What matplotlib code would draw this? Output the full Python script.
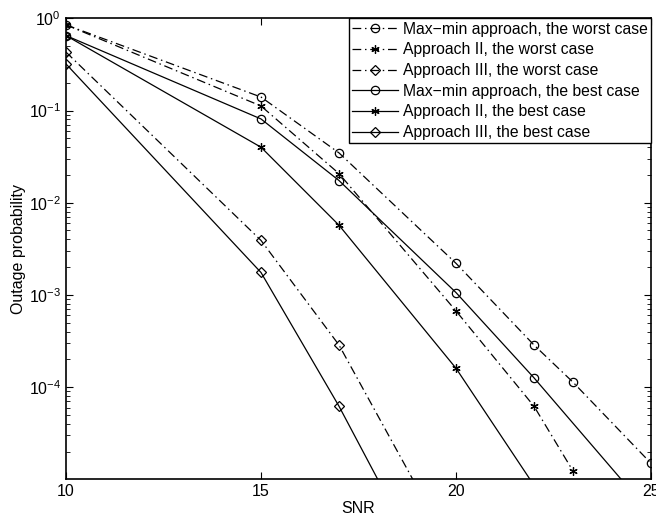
import matplotlib
matplotlib.use('Agg')
import matplotlib.pyplot as plt
import numpy as np
from matplotlib.ticker import LogLocator, NullFormatter

plt.rcParams['font.family'] = ['Liberation Sans', 'DejaVu Sans']
plt.rcParams['mathtext.fontset'] = 'custom'
plt.rcParams['mathtext.rm'] = 'Liberation Sans'

# SNR points and outage probabilities
snr_maxmin_worst = [10, 15, 17, 20, 22, 23, 25]
out_maxmin_worst = [0.85, 0.14, 0.0347, 2.2e-3, 2.86e-4, 1.13e-4, 1.49e-5]

snr_ii_worst = [10, 15, 17, 20, 22, 23]
out_ii_worst = [0.85, 0.112, 0.0207, 6.7e-4, 6.2e-5, 1.23e-5]

snr_iii_worst = [10, 15, 17, 20]
out_iii_worst = [0.43, 3.9e-3, 2.86e-4, 1.4e-6]

snr_maxmin_best = [10, 15, 17, 20, 22, 25]
out_maxmin_best = [0.65, 0.081, 0.0174, 1.06e-3, 1.26e-4, 4.2e-6]

snr_ii_best = [10, 15, 17, 20, 22]
out_ii_best = [0.65, 0.04, 5.7e-3, 1.6e-4, 8.6e-6]

snr_iii_best = [10, 15, 17, 20]
out_iii_best = [0.32, 1.75e-3, 6.2e-5, 2.5e-7]

labels = ['Max\u2212min approach, the worst case',
          'Approach II, the worst case',
          'Approach III, the worst case',
          'Max\u2212min approach, the best case',
          'Approach II, the best case',
          'Approach III, the best case']

xticks = [10, 15, 20, 25]
yticks = [1e-4, 1e-3, 1e-2, 1e-1, 1]

fig = plt.figure(figsize=(6.56, 5.19), dpi=100)
ax = fig.add_axes([0.1006, 0.0765, 0.8918, 0.8882])

dashdot = (0, (7, 3, 1.2, 3))
kw = dict(color='black', lw=0.9, markersize=6, markerfacecolor='none',
          markeredgecolor='black', markeredgewidth=0.9)
dkw = dict(kw, markersize=5)

ax.plot(snr_maxmin_worst, out_maxmin_worst, linestyle=dashdot, marker='o', label=labels[0], **kw)
ax.plot(snr_ii_worst, out_ii_worst, linestyle=dashdot, marker=(6, 2, 0), label=labels[1], **kw)
ax.plot(snr_iii_worst, out_iii_worst, linestyle=dashdot, marker='D', label=labels[2], **dkw)
ax.plot(snr_maxmin_best, out_maxmin_best, linestyle='-', marker='o', label=labels[3], **kw)
ax.plot(snr_ii_best, out_ii_best, linestyle='-', marker=(6, 2, 0), label=labels[4], **kw)
ax.plot(snr_iii_best, out_iii_best, linestyle='-', marker='D', label=labels[5], **dkw)

ax.set_yscale('log')
ax.set_xlim(10, 25)
ax.set_ylim(1e-5, 1)
ax.set_xticks(xticks)
ax.set_xticklabels([str(t) for t in xticks])
ax.set_yticks(yticks)
ax.set_yticklabels([r'$10^{%d}$' % int(np.log10(t)) for t in yticks])
ax.yaxis.set_minor_locator(LogLocator(base=10, subs=np.arange(2, 10), numticks=20))
ax.yaxis.set_minor_formatter(NullFormatter())

ax.tick_params(which='both', direction='in', top=True, right=True, labelsize=11.5)
ax.tick_params(which='major', length=5, width=0.8)
ax.tick_params(which='minor', length=3, width=0.6)
for s in ax.spines.values():
    s.set_linewidth(1.2)

ax.set_xlabel('SNR', fontsize=11.5, labelpad=1)
ax.set_ylabel('Outage probability', fontsize=11.5, labelpad=2)

leg = ax.legend(loc='upper right', bbox_to_anchor=(1.0, 1.0), fontsize=11.3,
                handlelength=2.9, handletextpad=0.3, borderaxespad=0,
                labelspacing=0.36, borderpad=0.22, fancybox=False, framealpha=1)
leg.get_frame().set_edgecolor('black')
leg.get_frame().set_linewidth(1.0)

fig.savefig('out.png', dpi=100)
